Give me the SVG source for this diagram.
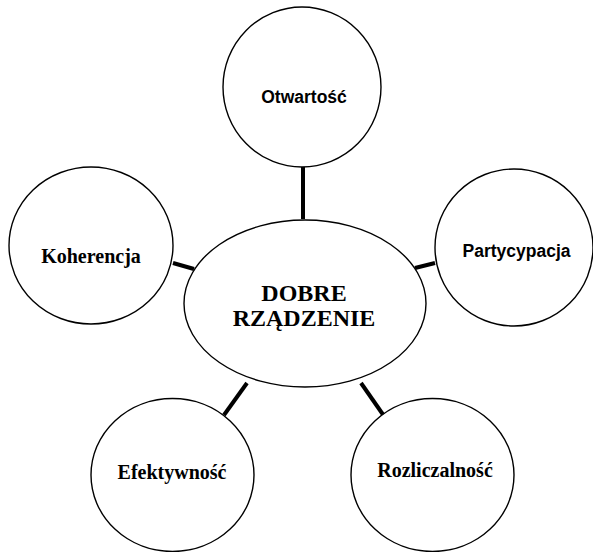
<svg xmlns="http://www.w3.org/2000/svg" width="593" height="552" viewBox="0 0 593 552">
<style>
.node{fill:#fff;stroke:#000;stroke-width:1.4}
.conn{stroke:#000;stroke-width:4;stroke-linecap:butt}
.tr{font-family:"Liberation Serif","Times New Roman",serif;font-weight:bold;font-size:20px;text-anchor:middle;fill:#000}
.ts{font-family:"Liberation Sans",Arial,sans-serif;font-weight:bold;font-size:17.5px;text-anchor:middle;fill:#000}
</style>
<rect width="593" height="552" fill="#fff"/>
<g id="connectors">
<line class="conn" x1="303" y1="167" x2="303" y2="219"/>
<line class="conn" x1="173" y1="263" x2="194" y2="269"/>
<line class="conn" x1="415" y1="268" x2="435" y2="263"/>
<line class="conn" x1="247" y1="383" x2="224" y2="415"/>
<line class="conn" x1="361" y1="383" x2="384" y2="416"/>
</g>
<g id="center">
<ellipse class="node" cx="305" cy="303.5" rx="121" ry="83.5"/>
<text class="tr" style="font-size:24px" x="304" y="300.5">DOBRE</text>
<text class="tr" style="font-size:24px" x="304" y="325.5">RZĄDZENIE</text>
</g>
<g id="otwartosc">
<ellipse class="node" cx="302" cy="87" rx="79" ry="80"/>
<text class="ts" x="304" y="103">Otwartość</text>
</g>
<g id="koherencja">
<ellipse class="node" cx="91" cy="245.5" rx="82" ry="78.5"/>
<text class="tr" x="91" y="262.5">Koherencja</text>
</g>
<g id="partycypacja">
<ellipse class="node" cx="514" cy="247.5" rx="79" ry="78.5"/>
<text class="ts" x="516.5" y="256.5">Partycypacja</text>
</g>
<g id="efektywnosc">
<ellipse class="node" cx="172.5" cy="475" rx="81.5" ry="76.5"/>
<text class="tr" x="172" y="479">Efektywność</text>
</g>
<g id="rozliczalnosc">
<ellipse class="node" cx="432.5" cy="475" rx="81.5" ry="76.5"/>
<text class="tr" x="435" y="476.5">Rozliczalność</text>
</g>
</svg>
